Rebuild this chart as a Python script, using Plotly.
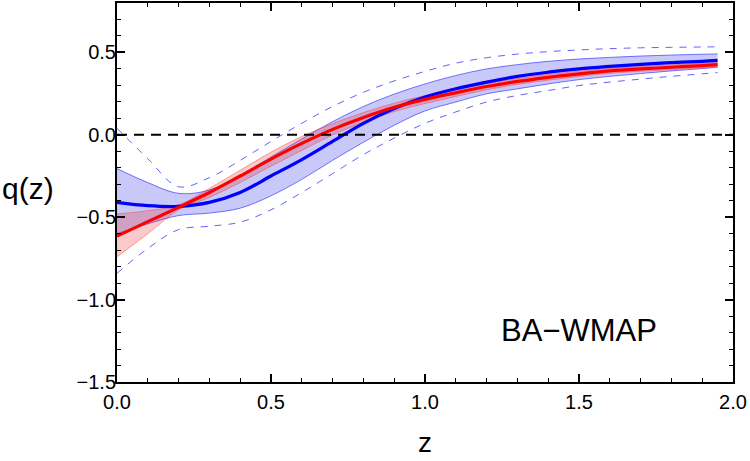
import plotly.graph_objects as go

# ---- data ----
z = [0.0, 0.1, 0.2, 0.3, 0.4, 0.5, 0.6, 0.7, 0.8, 0.9, 1.0,
     1.1, 1.2, 1.3, 1.4, 1.5, 1.6, 1.7, 1.8, 1.9, 1.95]

blue_mid = [-0.41, -0.43, -0.434, -0.41, -0.35, -0.25, -0.15, -0.04, 0.07, 0.16, 0.23,
            0.28, 0.32, 0.355, 0.38, 0.40, 0.415, 0.428, 0.438, 0.446, 0.452]
blue_hi = [-0.205, -0.29, -0.355, -0.335, -0.245, -0.135, -0.025, 0.08, 0.172, 0.247, 0.309,
           0.36, 0.40, 0.426, 0.446, 0.46, 0.47, 0.478, 0.484, 0.489, 0.491]
blue_lo = [-0.60, -0.54, -0.49, -0.475, -0.445, -0.37, -0.27, -0.155, -0.045, 0.058, 0.145,
           0.199, 0.249, 0.279, 0.309, 0.335, 0.355, 0.372, 0.388, 0.402, 0.41]
blue_hi2 = [0.04, -0.145, -0.315, -0.26, -0.155, -0.04, 0.07, 0.172, 0.258, 0.327, 0.385,
            0.435, 0.468, 0.49, 0.505, 0.515, 0.523, 0.528, 0.531, 0.533, 0.534]
blue_lo2 = [-0.84, -0.69, -0.575, -0.555, -0.53, -0.455, -0.35, -0.235, -0.12, -0.02, 0.07,
            0.139, 0.199, 0.239, 0.269, 0.299, 0.32, 0.338, 0.355, 0.37, 0.378]

red_mid = [-0.615, -0.527, -0.44, -0.35, -0.25, -0.147, -0.052, 0.033, 0.105, 0.167, 0.215,
           0.255, 0.293, 0.324, 0.349, 0.37, 0.388, 0.40, 0.41, 0.42, 0.426]
red_hi = [-0.48, -0.46, -0.425, -0.325, -0.215, -0.105, -0.01, 0.068, 0.135, 0.192, 0.238,
          0.277, 0.313, 0.342, 0.366, 0.386, 0.403, 0.414, 0.424, 0.434, 0.44]
red_lo = [-0.74, -0.60, -0.455, -0.38, -0.29, -0.19, -0.095, 0.0, 0.076, 0.141, 0.19,
          0.233, 0.273, 0.306, 0.332, 0.354, 0.373, 0.386, 0.396, 0.406, 0.412]

x_ticks = [0.0, 0.5, 1.0, 1.5, 2.0]
y_ticks = [-1.5, -1.0, -0.5, 0.0, 0.5]
label_text = "BA\u2212WMAP"

FONT = "Liberation Sans, Arial, Helvetica, sans-serif"

fig = go.Figure()

# blue 2-sigma dashed bounds
for yy in (blue_hi2, blue_lo2):
    fig.add_trace(go.Scatter(x=z, y=yy, mode="lines", line_shape="spline",
                             line=dict(color="rgba(70,70,255,0.85)", width=1, dash="7px,7px"),
                             hoverinfo="skip", showlegend=False))

# blue 1-sigma band
fig.add_trace(go.Scatter(x=z, y=blue_lo, mode="lines", line_shape="spline",
                         line=dict(color="rgba(60,60,255,0.7)", width=1),
                         hoverinfo="skip", showlegend=False))
fig.add_trace(go.Scatter(x=z, y=blue_hi, mode="lines", line_shape="spline", fill="tonexty",
                         fillcolor="rgba(40,40,230,0.25)",
                         line=dict(color="rgba(60,60,255,0.7)", width=1),
                         hoverinfo="skip", showlegend=False))

# red band
fig.add_trace(go.Scatter(x=z, y=red_lo, mode="lines", line_shape="spline",
                         line=dict(color="rgba(255,60,60,0.6)", width=0.8),
                         hoverinfo="skip", showlegend=False))
fig.add_trace(go.Scatter(x=z, y=red_hi, mode="lines", line_shape="spline", fill="tonexty",
                         fillcolor="rgba(240,40,40,0.25)",
                         line=dict(color="rgba(255,60,60,0.6)", width=0.8),
                         hoverinfo="skip", showlegend=False))

# central curves
fig.add_trace(go.Scatter(x=z, y=blue_mid, mode="lines", line_shape="spline",
                         line=dict(color="#0000ff", width=3.2), showlegend=False))
fig.add_trace(go.Scatter(x=z, y=red_mid, mode="lines", line_shape="spline",
                         line=dict(color="#ff0000", width=3.2), showlegend=False))

# q = 0 reference line
fig.add_shape(type="line", xref="paper", yref="y", x0=0, x1=1, y0=0, y1=0,
              line=dict(color="black", width=2, dash="10px,7px"), layer="above")

axis_common = dict(showgrid=False, zeroline=False, showline=True, linecolor="black",
                   linewidth=2, mirror="ticks", ticks="inside", ticklen=8, tickwidth=1.5,
                   tickcolor="black", tickformat=".1f",
                   tickfont=dict(family=FONT, size=20, color="black"))

fig.update_xaxes(range=[0, 2], tickvals=x_ticks, ticklabelstandoff=1,
                 minor=dict(dtick=0.1, ticks="inside", ticklen=4, tickwidth=1.2, tickcolor="black"),
                 **axis_common)
fig.update_yaxes(range=[-1.5, 0.8], tickvals=y_ticks, ticklabelstandoff=-5,
                 minor=dict(dtick=0.1, ticks="inside", ticklen=4, tickwidth=1.2, tickcolor="black"),
                 **axis_common)

fig.add_annotation(text="q(z)", xref="paper", yref="paper", x=-0.19, y=0.51,
                   xanchor="left", yanchor="middle", showarrow=False,
                   font=dict(family=FONT, size=30, color="black"))
fig.add_annotation(text="z", xref="paper", yref="paper", x=0.5, y=-0.16,
                   xanchor="center", yanchor="middle", showarrow=False,
                   font=dict(family=FONT, size=28, color="black"))
fig.add_annotation(text=label_text, x=1.5, y=-1.19, xref="x", yref="y",
                   xanchor="center", yanchor="middle", showarrow=False,
                   font=dict(family=FONT, size=31, color="black"))

fig.update_layout(width=750, height=461, paper_bgcolor="white", plot_bgcolor="white",
                  margin=dict(l=117, r=17, t=1, b=79), showlegend=False)

fig.write_html("out.html")
